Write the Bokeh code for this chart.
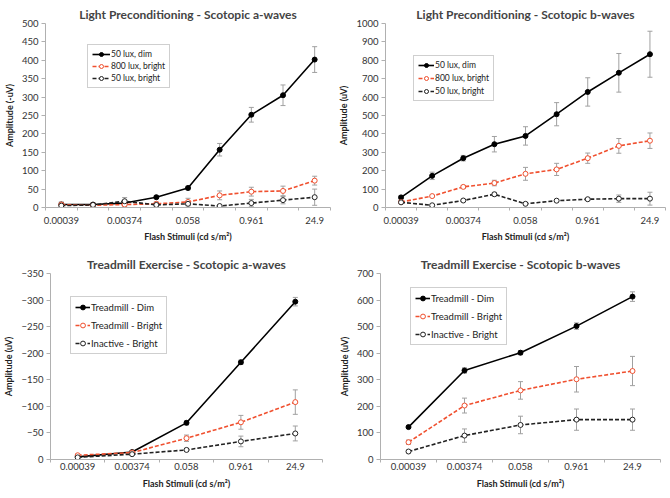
from bokeh.plotting import figure
from bokeh.models import (ColumnDataSource, Range1d, FixedTicker, Whisker, TeeHead,
                          Legend, LegendItem)
from bokeh.layouts import column, row
from bokeh.embed import file_html
from bokeh.resources import INLINE

# ---------------- data ----------------
top_ticks = ["0.00039", "", "0.00374", "", "0.058", "", "0.961", "", "24.9"]
bot_ticks = ["0.00039", "0.00374", "0.058", "0.961", "24.9"]

# Light preconditioning a-waves (-uV)
lpa_dim = [8, 8, 12, 28, 53, 157, 252, 305, 402]
lpa_dim_err = [5, 4, 4, 4, 5, 17, 20, 28, 35]
lpa_800 = [8, 6, 8, 10, 15, 33, 43, 45, 73]
lpa_800_err = [6, 5, 5, 5, 10, 12, 12, 13, 12]
lpa_50b = [5, 7, 17, 7, 10, 4, 12, 20, 28]
lpa_50b_err = [10, 5, 10, 5, 5, 3, 10, 10, 22]

# Light preconditioning b-waves (uV)
lpb_dim = [55, 172, 268, 344, 389, 507, 628, 732, 833]
lpb_dim_err = [10, 20, 15, 42, 50, 63, 77, 105, 125]
lpb_800 = [30, 62, 112, 133, 183, 207, 268, 335, 363]
lpb_800_err = [5, 5, 8, 15, 35, 33, 28, 40, 42]
lpb_50b = [28, 12, 38, 72, 20, 37, 45, 48, 48]
lpb_50b_err = [5, 5, 5, 10, 5, 5, 5, 20, 35]

# Treadmill a-waves (uV, negative)
tma_dim = [-5, -14, -69, -183, -297]
tma_dim_err = [2, 2, 4, 4, 8]
tma_bright = [-8, -13, -40, -70, -108]
tma_bright_err = [2, 3, 6, 13, 23]
tma_inact = [-4, -10, -18, -34, -49]
tma_inact_err = [2, 2, 3, 10, 14]

# Treadmill b-waves (uV)
tmb_dim = [122, 335, 402, 502, 613]
tmb_dim_err = [5, 10, 8, 12, 18]
tmb_bright = [65, 203, 260, 302, 333]
tmb_bright_err = [8, 28, 33, 48, 55]
tmb_inact = [30, 90, 130, 150, 150]
tmb_inact_err = [5, 25, 33, 40, 40]

FONT = "Lato"
RED = "#f0502f"
GREY_AX = "#b0b0b0"
ERR = "#a0a0a0"


def make_panel(title, ylabel, ticks, series, yr, ystep, size, borders,
               legend_pos, legend_spacing, legend_font, legend_glyph,
               legend_item_h, xlab_tight):
    n = len(ticks)
    w, h = size
    bl, br, bt, bb = borders
    p = figure(width=w, height=h, output_backend="svg", toolbar_location=None,
               x_range=Range1d(-0.5, n - 0.5), y_range=Range1d(yr[0], yr[1]),
               min_border_left=bl, min_border_right=br,
               min_border_top=bt, min_border_bottom=bb)
    p.title.text = title
    p.title.align = "center"
    p.title.text_font = FONT
    p.title.text_font_size = "12px"
    p.title.text_font_style = "bold"
    p.title.standoff = 4
    p.outline_line_color = None
    p.grid.visible = False
    p.background_fill_color = "white"
    p.border_fill_color = "white"

    lab_idx = [i for i, t in enumerate(ticks) if t]
    p.xaxis.ticker = FixedTicker(ticks=lab_idx,
                                 minor_ticks=[i - 0.5 for i in range(n + 1)])
    p.xaxis.major_label_overrides = {i: ticks[i] for i in lab_idx}
    p.xaxis.major_tick_line_color = None
    p.xaxis.minor_tick_out = 3
    p.xaxis.minor_tick_in = 0
    p.xaxis.minor_tick_line_color = GREY_AX

    lo, hi = sorted(yr)
    p.yaxis.ticker = FixedTicker(ticks=list(range(int(lo), int(hi) + 1, ystep)),
                                 minor_ticks=[])
    p.yaxis.major_tick_out = 4
    p.yaxis.major_tick_in = 0
    p.yaxis.major_tick_line_color = GREY_AX

    for ax in (p.xaxis, p.yaxis):
        ax.axis_line_color = GREY_AX
        ax.major_label_text_font = FONT
        ax.major_label_text_font_size = "9.5px"
        ax.major_label_text_color = "#333333"
        ax.major_label_standoff = 3
        ax.axis_label_text_font = FONT
        ax.axis_label_text_font_size = "9px"
        ax.axis_label_text_font_style = "bold"
        ax.axis_label_text_color = "#222222"
        ax.axis_label_standoff = 4
    if xlab_tight:
        p.xaxis.major_tick_out = 0
        p.xaxis.major_label_standoff = 0
        p.xaxis.axis_label_standoff = 5
    p.xaxis.axis_label = "Flash Stimuli (cd s/m\u00b2)"
    p.yaxis.axis_label = ylabel

    items = []
    xs = list(range(n))
    for label, vals, errs, color, dash, fill in series:
        src = ColumnDataSource(dict(x=xs, y=vals,
                                    lo=[v - e for v, e in zip(vals, errs)],
                                    hi=[v + e for v, e in zip(vals, errs)]))
        wk = Whisker(source=src, base="x", upper="hi", lower="lo",
                     line_color=ERR, line_width=1,
                     upper_head=TeeHead(size=5, line_color=ERR, line_width=1),
                     lower_head=TeeHead(size=5, line_color=ERR, line_width=1))
        p.add_layout(wk)
        ln = p.line("x", "y", source=src, line_color=color, line_width=1.6,
                    line_dash=dash)
        sc = p.scatter("x", "y", source=src, size=5, line_color=color,
                       fill_color=fill, line_width=1)
        items.append(LegendItem(label=label, renderers=[ln, sc]))

    leg = Legend(items=items, location=legend_pos)
    leg.label_text_font = FONT
    leg.label_text_font_size = legend_font
    leg.label_text_color = "#222222"
    leg.glyph_width = legend_glyph
    leg.glyph_height = legend_item_h
    leg.label_height = legend_item_h
    leg.label_standoff = 1
    leg.spacing = legend_spacing
    leg.padding = 4
    leg.margin = 0
    leg.border_line_color = "#a0a0a0"
    leg.border_line_width = 1
    leg.background_fill_alpha = 1
    p.add_layout(leg, "center")
    return p


pA = make_panel("Light Preconditioning - Scotopic a-waves", "Amplitude (-uV)",
                top_ticks,
                [("50 lux, dim", lpa_dim, lpa_dim_err, "black", "solid", "black"),
                 ("800 lux, bright", lpa_800, lpa_800_err, RED, "4 2", "white"),
                 ("50 lux, bright", lpa_50b, lpa_50b_err, "#222222", "4 2", "white")],
                (0, 500), 50, (335, 249), (43, 5, 23, 42), (42, 119), 2,
                "8.5px", 18, 10, False)

pB = make_panel("Light Preconditioning - Scotopic b-waves", "Amplitude (uV)",
                top_ticks,
                [("50 lux, dim", lpb_dim, lpb_dim_err, "black", "solid", "black"),
                 ("800 lux, bright", lpb_800, lpb_800_err, RED, "4 2", "white"),
                 ("50 lux, bright", lpb_50b, lpb_50b_err, "#222222", "4 2", "white")],
                (0, 1000), 100, (335, 249), (43, 5, 23, 42), (28, 106), 3,
                "8.5px", 16, 10, False)

pC = make_panel("Treadmill Exercise - Scotopic a-waves", "Amplitude (uV)",
                bot_ticks,
                [("Treadmill - Dim", tma_dim, tma_dim_err, "black", "solid", "black"),
                 ("Treadmill - Bright", tma_bright, tma_bright_err, RED, "4 2", "white"),
                 ("Inactive - Bright", tma_inact, tma_inact_err, "#222222", "4 2", "white")],
                (0, -350), 50, (335, 249), (48, 13, 24, 37), (20, 105), 6,
                "9.5px", 15, 12, True)

pD = make_panel("Treadmill Exercise - Scotopic b-waves", "Amplitude (uV)",
                bot_ticks,
                [("Treadmill - Dim", tmb_dim, tmb_dim_err, "black", "solid", "black"),
                 ("Treadmill - Bright", tmb_bright, tmb_bright_err, RED, "4 2", "white"),
                 ("Inactive - Bright", tmb_inact, tmb_inact_err, "#222222", "4 2", "white")],
                (0, 700), 100, (335, 249), (40, 10, 24, 39), (30, 114), 6,
                "9.5px", 15, 12, True)

layout = column(row(pA, pB, spacing=0), row(pC, pD, spacing=0), spacing=0)
open("out.html", "w").write(file_html(layout, INLINE))
